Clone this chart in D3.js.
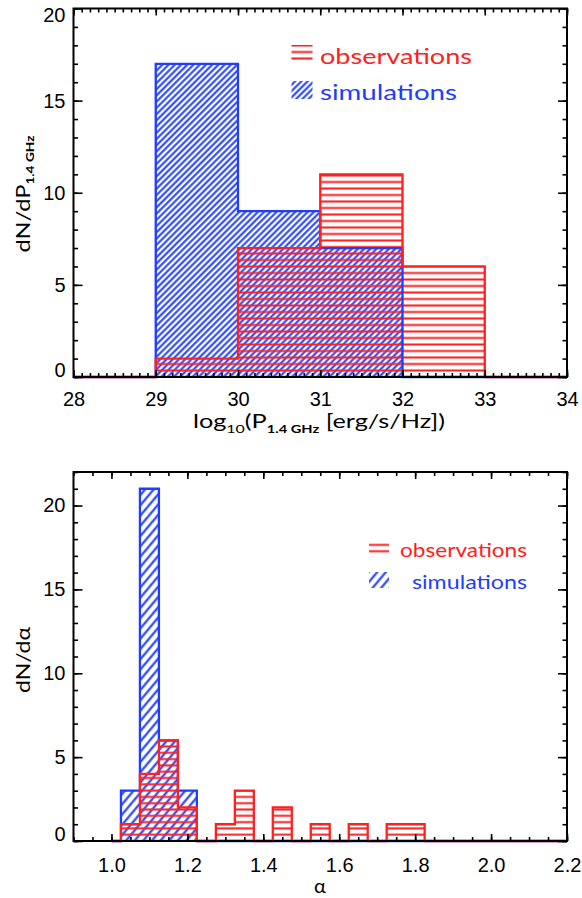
<!DOCTYPE html>
<html><head><meta charset="utf-8">
<script src="https://cdn.jsdelivr.net/npm/d3@7"></script>
<style>body{margin:0;background:#fff} svg{display:block}</style>
</head><body>
<svg id="c" width="582" height="898"></svg>
<script>
// ---------- DATA ----------
// Panel 1: radio power distribution
const powerBinEdges = [28, 29, 30, 31, 32, 33, 34];
const powerObs = [0, 1, 7, 11, 6, 0];
const powerSim = [0, 17, 9, 7, 0, 0];
const powerXTicks = [28, 29, 30, 31, 32, 33, 34];
const powerYTicks = [0, 5, 10, 15, 20];

// Panel 2: spectral index distribution
const alphaBinCenters = [1.00, 1.05, 1.10, 1.15, 1.20, 1.25, 1.30, 1.35, 1.40, 1.45, 1.50, 1.55, 1.60,
                         1.65, 1.70, 1.75, 1.80, 1.85, 1.90, 1.95, 2.00, 2.05, 2.10, 2.15, 2.20];
const alphaObs = [0, 1, 4, 6, 2, 0, 1, 3, 0, 2, 0, 1, 0, 1, 0, 1, 1, 0, 0, 0, 0, 0, 0, 0, 0];
const alphaSim = [0, 3, 21, 6, 3, 0, 0, 0, 0, 0, 0, 0, 0, 0, 0, 0, 0, 0, 0, 0, 0, 0, 0, 0, 0];
const alphaXTicks = [1.0, 1.2, 1.4, 1.6, 1.8, 2.0, 2.2];
const alphaYTicks = [0, 5, 10, 15, 20];

const seriesNames = ["observations", "simulations"];

// ---------- STYLE ----------
const RED = "#ff2020", BLUE = "#1f3cff";
const FONT = "Lato, 'Open Sans', sans-serif";

const svg = d3.select("#c");
const defs = svg.append("defs");

function hatchLines(id, period, angle, color, width, offsetY) {
  const p = defs.append("pattern").attr("id", id)
    .attr("patternUnits", "userSpaceOnUse")
    .attr("width", angle === null ? 20 : period)
    .attr("height", angle === null ? period : 40);
  if (angle === null) {
    p.attr("patternTransform", `translate(0,${offsetY - period / 2})`);
    p.append("rect").attr("x", 0).attr("y", period / 2 - width / 2)
      .attr("width", 20).attr("height", width).attr("fill", color);
  } else {
    p.attr("patternTransform", `rotate(${angle})`);
    p.append("rect").attr("x", period / 2 - width / 2).attr("y", 0)
      .attr("width", width).attr("height", 40).attr("fill", color);
  }
}

function range(a, b, step) { // for minor tick positions
  const out = [];
  for (let v = a; v <= b + 1e-9; v += step) out.push(+v.toFixed(4));
  return out;
}

function panel(cfg) {
  const { x, y, id } = cfg;
  const [x0, x1] = x.range(), [yb, yt] = y.range();
  const g = svg.append("g");

  hatchLines(id + "b", cfg.bluePeriod, cfg.blueAngle, BLUE, cfg.blueWidth, 0);
  hatchLines(id + "r", cfg.redPeriod, null, RED, 2.0, yb);

  defs.append("clipPath").attr("id", id + "clip")
    .append("rect").attr("x", x0).attr("y", yt - 3).attr("width", x1 - x0).attr("height", yb - yt + 6);

  const pts = (edges, vals) => vals.flatMap((v, i) => [[edges[i], v], [edges[i + 1], v]]);
  const simPts = pts(cfg.edges, cfg.sim), obsPts = pts(cfg.edges, cfg.obs);
  const area = d3.area().x(d => x(d[0])).y0(y(0)).y1(d => y(d[1]));
  const line = d3.line().x(d => x(d[0])).y(d => y(d[1]));

  const gc = g.append("g").attr("clip-path", `url(#${id}clip)`);
  gc.append("path").attr("d", area(simPts)).attr("fill", `url(#${id}b)`);
  gc.append("path").attr("d", area(obsPts)).attr("fill", `url(#${id}r)`);

  // axes (ticks point inward)
  const fmt = cfg.fmt;
  const ax = g.append("g").attr("font-family", FONT);
  ax.append("g").attr("transform", `translate(0,${yb})`)
    .call(d3.axisBottom(x).tickValues(cfg.xTicks).tickSize(-7).tickPadding(cfg.xPad).tickFormat(fmt));
  ax.append("g").attr("transform", `translate(0,${yb})`)
    .call(d3.axisBottom(x).tickValues(cfg.xMinor).tickSize(-4).tickFormat(""));
  ax.append("g").attr("transform", `translate(0,${yt})`)
    .call(d3.axisTop(x).tickValues(cfg.xTicks).tickSize(-7).tickFormat(""));
  ax.append("g").attr("transform", `translate(0,${yt})`)
    .call(d3.axisTop(x).tickValues(cfg.xMinor).tickSize(-4).tickFormat(""));
  const left = ax.append("g").attr("transform", `translate(${x0},0)`)
    .call(d3.axisLeft(y).tickValues(cfg.yTicks).tickSize(-9).tickPadding(8).tickFormat(d3.format("d")));
  ax.append("g").attr("transform", `translate(${x0},0)`)
    .call(d3.axisLeft(y).tickValues(cfg.yMinor).tickSize(-4.5).tickFormat(""));
  ax.append("g").attr("transform", `translate(${x1},0)`)
    .call(d3.axisRight(y).tickValues(cfg.yTicks).tickSize(-9).tickFormat(""));
  ax.append("g").attr("transform", `translate(${x1},0)`)
    .call(d3.axisRight(y).tickValues(cfg.yMinor).tickSize(-4.5).tickFormat(""));
  ax.selectAll(".domain").remove();
  ax.selectAll(".tick line").attr("stroke", "#000").attr("stroke-width", 1.6);
  ax.selectAll(".tick text").attr("fill", "#000").attr("font-size", 20);
  left.selectAll(".tick text").attr("y", d => {
    const p = y(d);
    const c = Math.max(yt + 6.5, Math.min(yb - 6.5, p));
    return c - p;
  });

  // frame
  g.append("rect").attr("x", x0).attr("y", yt).attr("width", x1 - x0).attr("height", yb - yt)
    .attr("fill", "none").attr("stroke", "#000").attr("stroke-width", 2);

  // outlines
  gc.append("path").attr("d", line(simPts)).attr("fill", "none").attr("stroke", BLUE).attr("stroke-width", 2.3);
  gc.append("path").attr("d", line(obsPts)).attr("fill", "none").attr("stroke", RED).attr("stroke-width", 2.3);

  // legend
  const L = cfg.legend;
  g.append("rect").attr("x", L.ix).attr("y", L.oy - L.ih).attr("width", L.iw).attr("height", L.ih - 1)
    .attr("fill", `url(#${id}r)`);
  g.append("rect").attr("x", L.ix).attr("y", L.sy - L.ih).attr("width", L.iw).attr("height", L.ih - 1)
    .attr("fill", `url(#${id}b)`);
  g.append("text").attr("x", L.ox).attr("y", L.oy).attr("fill", RED).attr("font-family", FONT)
    .attr("font-size", L.fs).attr("textLength", L.ow).attr("lengthAdjust", "spacingAndGlyphs").text(seriesNames[0]);
  g.append("text").attr("x", L.sx).attr("y", L.sy).attr("fill", BLUE).attr("font-family", FONT)
    .attr("font-size", L.fs).attr("textLength", L.sw).attr("lengthAdjust", "spacingAndGlyphs").text(seriesNames[1]);
  return g;
}

// ---------- PANEL 1 ----------
const x1s = d3.scaleLinear().domain([28, 34]).range([73.5, 567]);
const y1s = d3.scaleLinear().domain([0, 20]).range([377, 8.5]);
panel({
  id: "p1", x: x1s, y: y1s, edges: powerBinEdges, obs: powerObs, sim: powerSim,
  xTicks: powerXTicks, xMinor: range(28, 34, 0.1), yTicks: powerYTicks, yMinor: range(0, 20, 1),
  fmt: d3.format("d"), xPad: 15,
  bluePeriod: 4.4, blueAngle: 45, blueWidth: 2.0, redPeriod: 6.5,
  legend: { ix: 291.5, iw: 21, ih: 19, ox: 320, oy: 64, ow: 152, sx: 320, sy: 100, sw: 137, fs: 21 }
});
// axis titles
const t1 = svg.append("text").attr("x", 319).attr("y", 428).attr("text-anchor", "middle")
  .attr("font-family", FONT).attr("font-size", 19).attr("fill", "#000")
  .attr("textLength", 252).attr("lengthAdjust", "spacingAndGlyphs");
t1.append("tspan").text("log");
t1.append("tspan").attr("font-size", 12).attr("dy", 5).text("10");
t1.append("tspan").attr("dy", -5).text("(P");
t1.append("tspan").attr("font-size", 11).attr("font-weight", "bold").attr("dy", 5).text("1.4 GHz");
t1.append("tspan").attr("dy", -5).text(" [erg/s/Hz])");

const yl1 = svg.append("text").attr("transform", "translate(30,194) rotate(-90)").attr("text-anchor", "middle")
  .attr("font-family", FONT).attr("font-size", 19).attr("fill", "#000")
  .attr("textLength", 117).attr("lengthAdjust", "spacingAndGlyphs");
yl1.append("tspan").text("dN/dP");
yl1.append("tspan").attr("font-size", 11).attr("font-weight", "bold").attr("dy", 4).text("1.4 GHz");

// ---------- PANEL 2 ----------
const x2s = d3.scaleLinear().domain([0.9, 2.2]).range([73.5, 567]);
const y2s = d3.scaleLinear().domain([0, 22]).range([841, 472]);
const n = alphaBinCenters.length;
const alphaEdges = [alphaBinCenters[0]]
  .concat(alphaBinCenters.slice(1).map((c, i) => (c + alphaBinCenters[i]) / 2))
  .concat([alphaBinCenters[n - 1] + (alphaBinCenters[n - 1] - alphaBinCenters[n - 2]) / 2]);
panel({
  id: "p2", x: x2s, y: y2s, edges: alphaEdges, obs: alphaObs, sim: alphaSim,
  xTicks: alphaXTicks, xMinor: range(0.9, 2.2, 0.05), yTicks: alphaYTicks, yMinor: range(0, 22, 1),
  fmt: d3.format(".1f"), xPad: 17,
  bluePeriod: 6.6, blueAngle: 40, blueWidth: 2.1, redPeriod: 6.3,
  legend: { ix: 369, iw: 20, ih: 17, ox: 400, oy: 557, ow: 127, sx: 412, sy: 589, sw: 115, fs: 19 }
});
svg.append("text").attr("x", 320).attr("y", 893).attr("text-anchor", "middle")
  .attr("font-family", FONT).attr("font-size", 20).attr("fill", "#000").text("α");
svg.append("text").attr("transform", "translate(30,660) rotate(-90)").attr("text-anchor", "middle")
  .attr("font-family", FONT).attr("font-size", 19).attr("fill", "#000")
  .attr("textLength", 66).attr("lengthAdjust", "spacingAndGlyphs").text("dN/dα");
</script>
</body></html>
